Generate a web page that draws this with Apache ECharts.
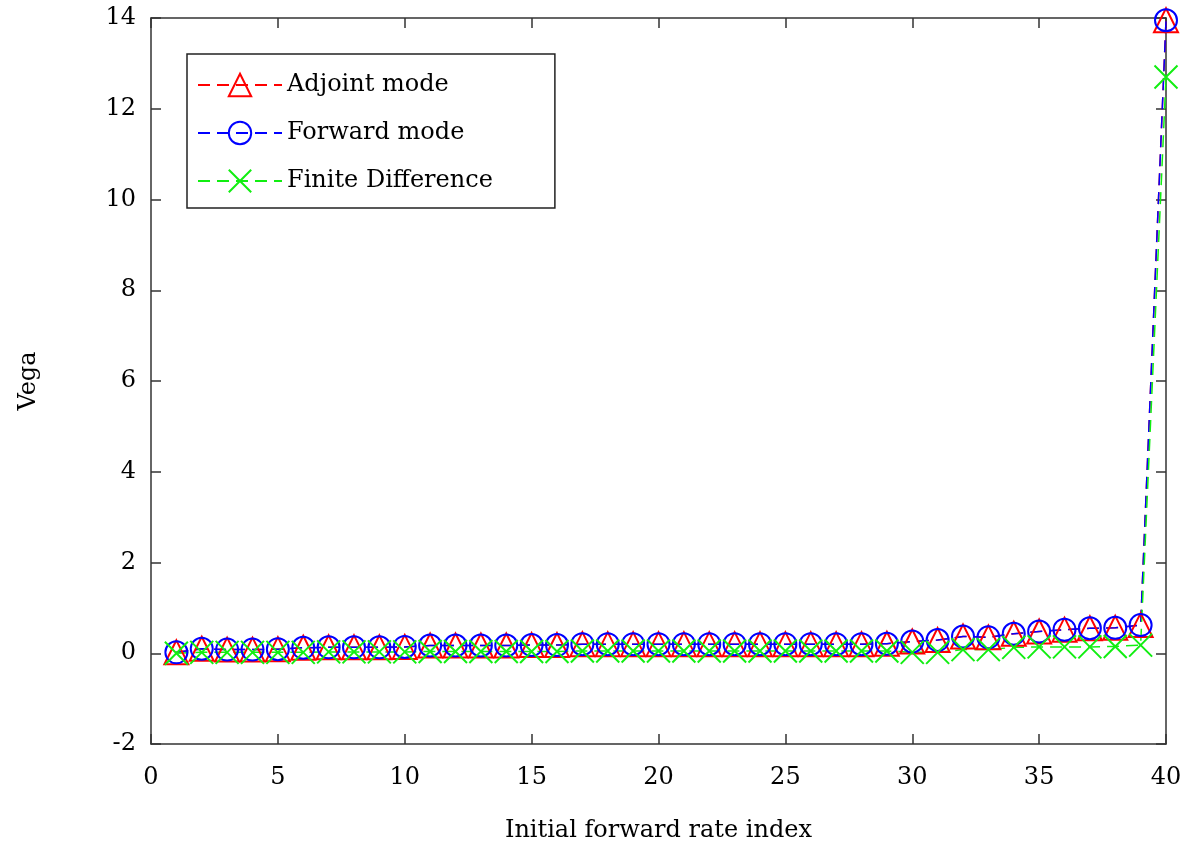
<!DOCTYPE html>
<html>
<head>
<meta charset="utf-8">
<script src="https://cdn.jsdelivr.net/npm/echarts@6/dist/echarts.min.js"></script>
<style>
  html, body { margin: 0; padding: 0; background: #fff; }
  #chart { width: 1187px; height: 848px; }
</style>
</head>
<body>
<div id="chart"></div>
<script>
// forward rate index 1..40
const rateIndex = Array.from({ length: 40 }, (_, i) => i + 1)

const adjointVega = [0.02, 0.1, 0.08, 0.08, 0.09, 0.12, 0.13, 0.13, 0.13, 0.14,
  0.17, 0.17, 0.17, 0.17, 0.18, 0.18, 0.2, 0.2, 0.2, 0.2,
  0.2, 0.2, 0.2, 0.2, 0.2, 0.2, 0.2, 0.2, 0.21, 0.26,
  0.29, 0.37, 0.35, 0.43, 0.48, 0.52, 0.55, 0.56, 0.62, 13.95]
const forwardVega = [0.02, 0.1, 0.08, 0.08, 0.09, 0.12, 0.13, 0.13, 0.13, 0.14,
  0.17, 0.17, 0.17, 0.17, 0.18, 0.18, 0.2, 0.2, 0.2, 0.2,
  0.2, 0.2, 0.2, 0.2, 0.2, 0.2, 0.2, 0.2, 0.21, 0.26,
  0.29, 0.37, 0.35, 0.43, 0.48, 0.52, 0.55, 0.56, 0.62, 13.95]
const finiteDiffVega = [0.0, 0.02, 0.02, 0.02, 0.02, 0.02, 0.03, 0.03, 0.03, 0.03,
  0.04, 0.04, 0.04, 0.04, 0.04, 0.04, 0.05, 0.05, 0.05, 0.05,
  0.05, 0.05, 0.05, 0.05, 0.05, 0.05, 0.05, 0.05, 0.05, 0.02,
  0.02, 0.08, 0.08, 0.13, 0.14, 0.14, 0.14, 0.15, 0.18, 12.7]

const seriesNames = ['Adjoint mode', 'Forward mode', 'Finite Difference']

const font = '"DejaVu Serif", "Liberation Serif", serif'
const crossPath = 'path://M0,0L10,10M10,0L0,10'

const pairs = (ys) => rateIndex.map((x, i) => [x, ys[i]])

const makeSeries = (name, ys, color, symbol, size) => ({
  name,
  type: 'line',
  data: pairs(ys),
  symbol,
  symbolSize: size,
  showAllSymbol: true,
  lineStyle: { color, width: 1.5, type: [12, 7] },
  itemStyle: { color: 'rgba(0,0,0,0)', borderColor: color, borderWidth: 2 },
  emphasis: { disabled: true },
  animation: false
})

const chart = echarts.init(document.getElementById('chart'))

const axisBase = (show, margin) => ({
  axisLine: { show: true, onZero: false, lineStyle: { color: '#333', width: 1.5 } },
  axisTick: { show: true, inside: true, length: 10, lineStyle: { color: '#333', width: 1.5 } },
  axisLabel: { show, fontFamily: font, fontSize: 24, color: '#000', margin },
  splitLine: { show: false }
})
const tickAxisY = (pos, show) => Object.assign({
  type: 'value', min: -2, max: 14, interval: 2, position: pos
}, axisBase(show, 15))
const tickAxisX = (pos, show) => Object.assign({
  type: 'value', min: 0, max: 40, interval: 5, position: pos
}, axisBase(show, 22))

const xMain = tickAxisX('bottom', true)
xMain.name = 'Initial forward rate index'
xMain.nameLocation = 'middle'
xMain.nameGap = 75
xMain.nameTextStyle = { fontFamily: font, fontSize: 24, color: '#000' }

const yMain = tickAxisY('left', true)
yMain.name = 'Vega'
yMain.nameLocation = 'middle'
yMain.nameGap = 110
yMain.nameTextStyle = { fontFamily: font, fontSize: 24, color: '#000' }

chart.setOption({
  backgroundColor: '#fff',
  animation: false,
  grid: { left: 151, right: 21, top: 18, bottom: 103 },
  xAxis: [xMain, tickAxisX('top', false)],
  yAxis: [yMain, tickAxisY('right', false)],
  legend: {
    data: seriesNames,
    orient: 'vertical',
    left: 187,
    top: 54,
    padding: [17, 62, 13, 10],
    itemGap: 20,
    itemWidth: 84,
    itemHeight: 28,
    borderColor: '#222',
    borderWidth: 1.5,
    backgroundColor: '#fff',
    textStyle: { fontFamily: font, fontSize: 24, color: '#000', lineHeight: 28 }
  },
  series: [
    makeSeries(seriesNames[0], adjointVega, '#ff0000', 'triangle', 24),
    makeSeries(seriesNames[1], forwardVega, '#0000ff', 'circle', 22),
    makeSeries(seriesNames[2], finiteDiffVega, '#11ee11', crossPath, 23)
  ]
})
</script>
</body>
</html>
